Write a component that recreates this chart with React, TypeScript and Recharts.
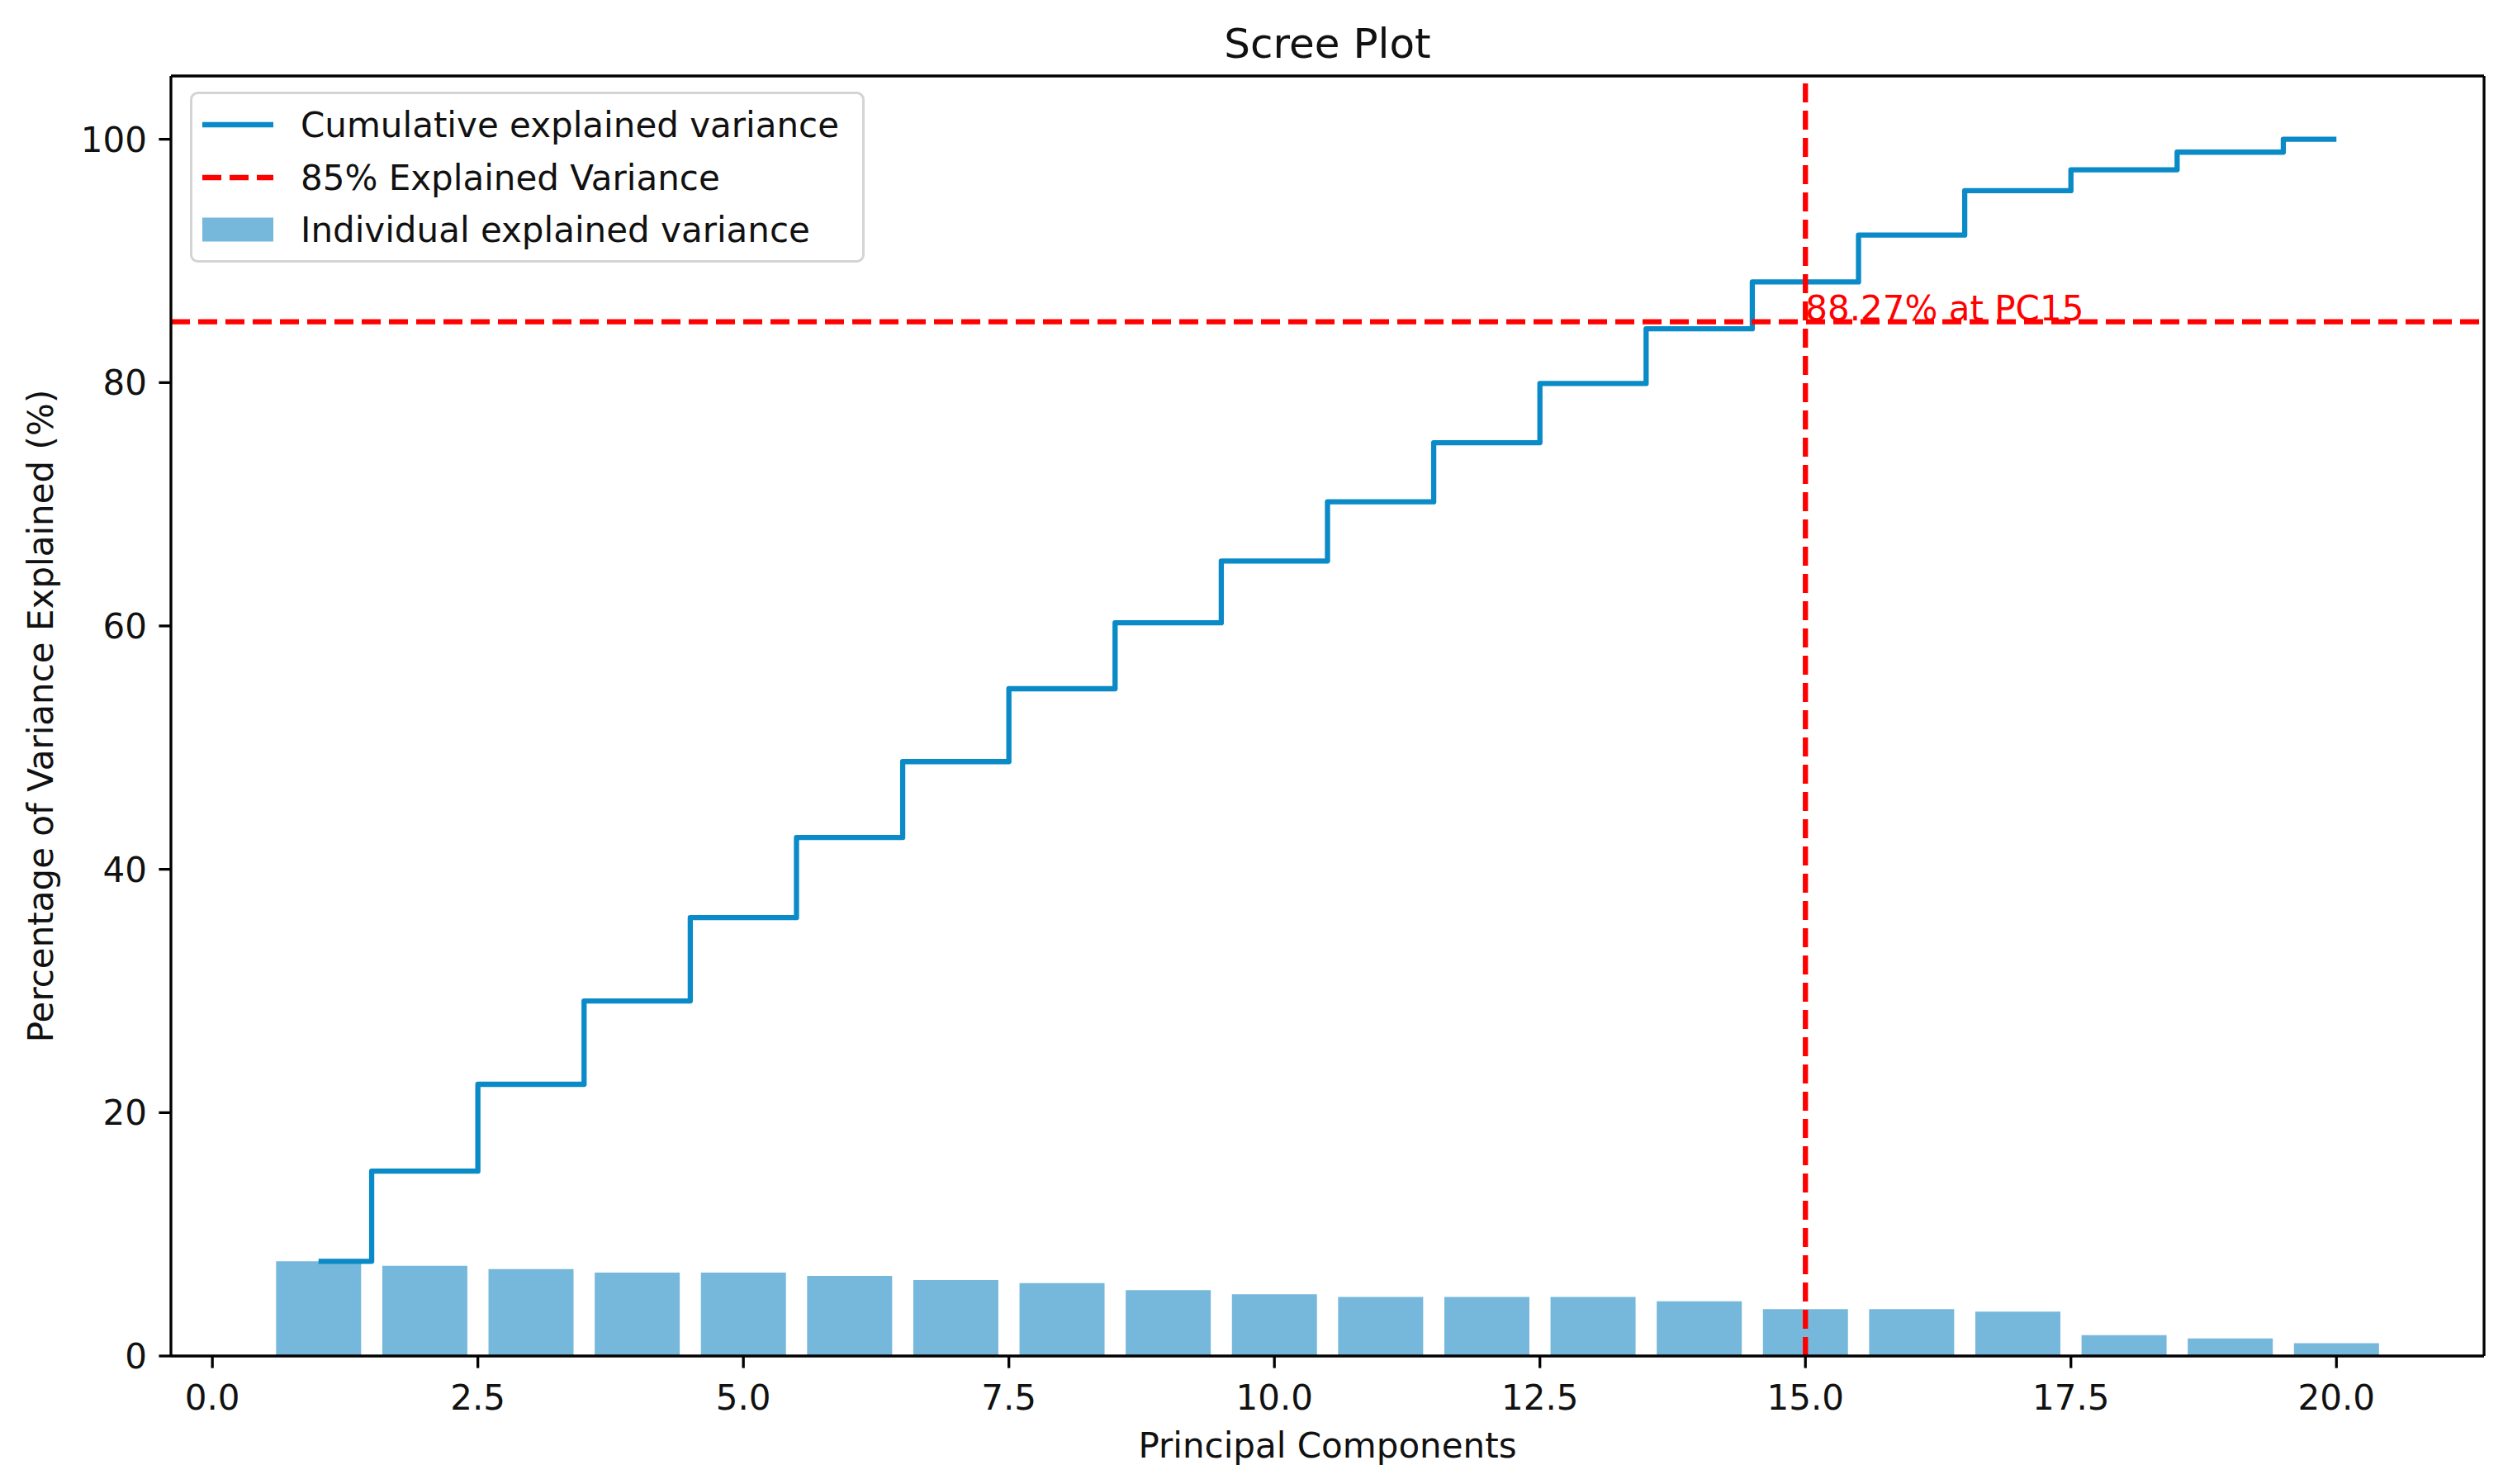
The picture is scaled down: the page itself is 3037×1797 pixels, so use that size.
import React from 'react'
import {
  ComposedChart,
  Bar,
  Line,
  XAxis,
  YAxis,
  ReferenceLine,
  ReferenceDot,
  Legend,
} from 'recharts'

// values
const components = [1, 2, 3, 4, 5, 6, 7, 8, 9, 10, 11, 12, 13, 14, 15, 16, 17, 18, 19, 20]
const individualVariance = [
  7.78, 7.41, 7.14, 6.85, 6.85, 6.58, 6.24, 5.99, 5.42, 5.08,
  4.86, 4.86, 4.86, 4.5, 3.85, 3.85, 3.65, 1.72, 1.45, 1.06,
]
const cumulativeVariance = [
  7.78, 15.19, 22.33, 29.18, 36.03, 42.61, 48.85, 54.84, 60.26, 65.34,
  70.2, 75.06, 79.92, 84.42, 88.27, 92.12, 95.77, 97.49, 98.94, 100.0,
]
const xTicks = [0, 2.5, 5, 7.5, 10, 12.5, 15, 17.5, 20]
const yTicks = [0, 20, 40, 60, 80, 100]
const thresholdPct = 85
const thresholdPc = 15
const thresholdLabel = '88.27% at PC15'

const xDomain: [number, number] = [-0.39, 21.39]
const yDomain: [number, number] = [0, 105.2]

const data = components.map((pc, i) => ({
  pc,
  individual: individualVariance[i],
  cumulative: cumulativeVariance[i],
}))

const FONT = 'DejaVu Sans'
const LINE_BLUE = '#0a8ac6'
const BAR_BLUE = '#76b8db'
const RED = '#ff0000'
const INK = '#111'

function LegendBox() {
  const rows = [40, 104, 167]
  return (
    <svg width={818} height={208} style={{ display: 'block' }}>
      <rect x={1.5} y={1.5} width={814} height={204} rx={8} fill="#fff" fillOpacity={0.8} stroke="#d4d4d4" strokeWidth={3} />
      <line x1={15} x2={101} y1={rows[0]} y2={rows[0]} stroke={LINE_BLUE} strokeWidth={6.3} />
      <line x1={15} x2={101} y1={rows[1]} y2={rows[1]} stroke={RED} strokeWidth={6.3} strokeDasharray="23 10" />
      <rect x={15} y={rows[2] - 14.5} width={86} height={29} fill={BAR_BLUE} />
      <g fontFamily={FONT} fontSize={42} fill={INK}>
        <text x={134} y={rows[0]} dy="0.36em">Cumulative explained variance</text>
        <text x={134} y={rows[1]} dy="0.36em">85% Explained Variance</text>
        <text x={134} y={rows[2]} dy="0.36em">Individual explained variance</text>
      </g>
    </svg>
  )
}

export default function App() {
  return (
    <div style={{ position: 'absolute', left: 0, top: 0, width: 3037, height: 1797, background: '#fff' }}>
      <div
        style={{
          position: 'absolute',
          left: 207,
          top: 28,
          width: 2801,
          textAlign: 'center',
          fontFamily: FONT,
          fontSize: 50,
          lineHeight: '50px',
          color: INK,
          zIndex: 2,
        }}
      >
        Scree Plot
      </div>
      <ComposedChart
        width={3037}
        height={1797}
        data={data}
        margin={{ top: 92, right: 29, bottom: 0, left: 0 }}
        barCategoryGap="10%"
        barGap={0}
        style={{ fontFamily: FONT }}
      >
        <XAxis
          dataKey="pc"
          type="number"
          domain={xDomain}
          ticks={xTicks}
          tickFormatter={(v: number) => v.toFixed(1)}
          height={155}
          tickSize={14.6}
          tickMargin={21}
          axisLine={{ stroke: '#000', strokeWidth: 3.3 }}
          tickLine={{ stroke: '#000', strokeWidth: 3.3 }}
          tick={{ fontSize: 42, fill: INK, fontFamily: FONT }}
          label={(props: any) => {
            const vb = props.viewBox
            return (
              <text x={vb.x + vb.width / 2} y={vb.y + 123} textAnchor="middle" fontSize={42} fill={INK} fontFamily={FONT}>
                Principal Components
              </text>
            )
          }}
        />
        <YAxis
          type="number"
          domain={yDomain}
          ticks={yTicks}
          width={207}
          tickSize={14.6}
          tickMargin={14.4}
          axisLine={{ stroke: '#000', strokeWidth: 3.3 }}
          tickLine={{ stroke: '#000', strokeWidth: 3.3 }}
          tick={{ fontSize: 42, fill: INK, fontFamily: FONT }}
          label={(props: any) => {
            const vb = props.viewBox
            const cy = vb.y + vb.height / 2
            return (
              <text x={64} y={cy} transform={`rotate(-90, 64, ${cy})`} textAnchor="middle" fontSize={42} fill={INK} fontFamily={FONT}>
                Percentage of Variance Explained (%)
              </text>
            )
          }}
        />
        <Legend
          layout="vertical"
          align="center"
          verticalAlign="middle"
          wrapperStyle={{ left: 230, top: 111, width: 818, height: 208 }}
          content={() => <LegendBox />}
        />
        <Bar dataKey="individual" fill={BAR_BLUE} isAnimationActive={false} />
        <Line
          type="step"
          dataKey="cumulative"
          stroke={LINE_BLUE}
          strokeWidth={6.3}
          strokeLinejoin="round"
          dot={false}
          activeDot={false}
          isAnimationActive={false}
        />
        <ReferenceLine y={thresholdPct} stroke={RED} strokeWidth={6.3} strokeDasharray="23 10" />
        <ReferenceLine x={thresholdPc} stroke={RED} strokeWidth={6.3} strokeDasharray="23 10" />
        <ReferenceDot
          x={thresholdPc}
          y={thresholdPct}
          r={0}
          fill="none"
          stroke="none"
          label={(props: any) => (
            <text x={props.viewBox.x} y={props.viewBox.y - 2} fill={RED} fontSize={42} fontFamily={FONT}>
              {thresholdLabel}
            </text>
          )}
        />
        {/* top and right spines */}
        <ReferenceLine y={yDomain[1]} stroke="#000" strokeWidth={3.3} />
        <ReferenceLine x={xDomain[1]} stroke="#000" strokeWidth={3.3} />
      </ComposedChart>
    </div>
  )
}
